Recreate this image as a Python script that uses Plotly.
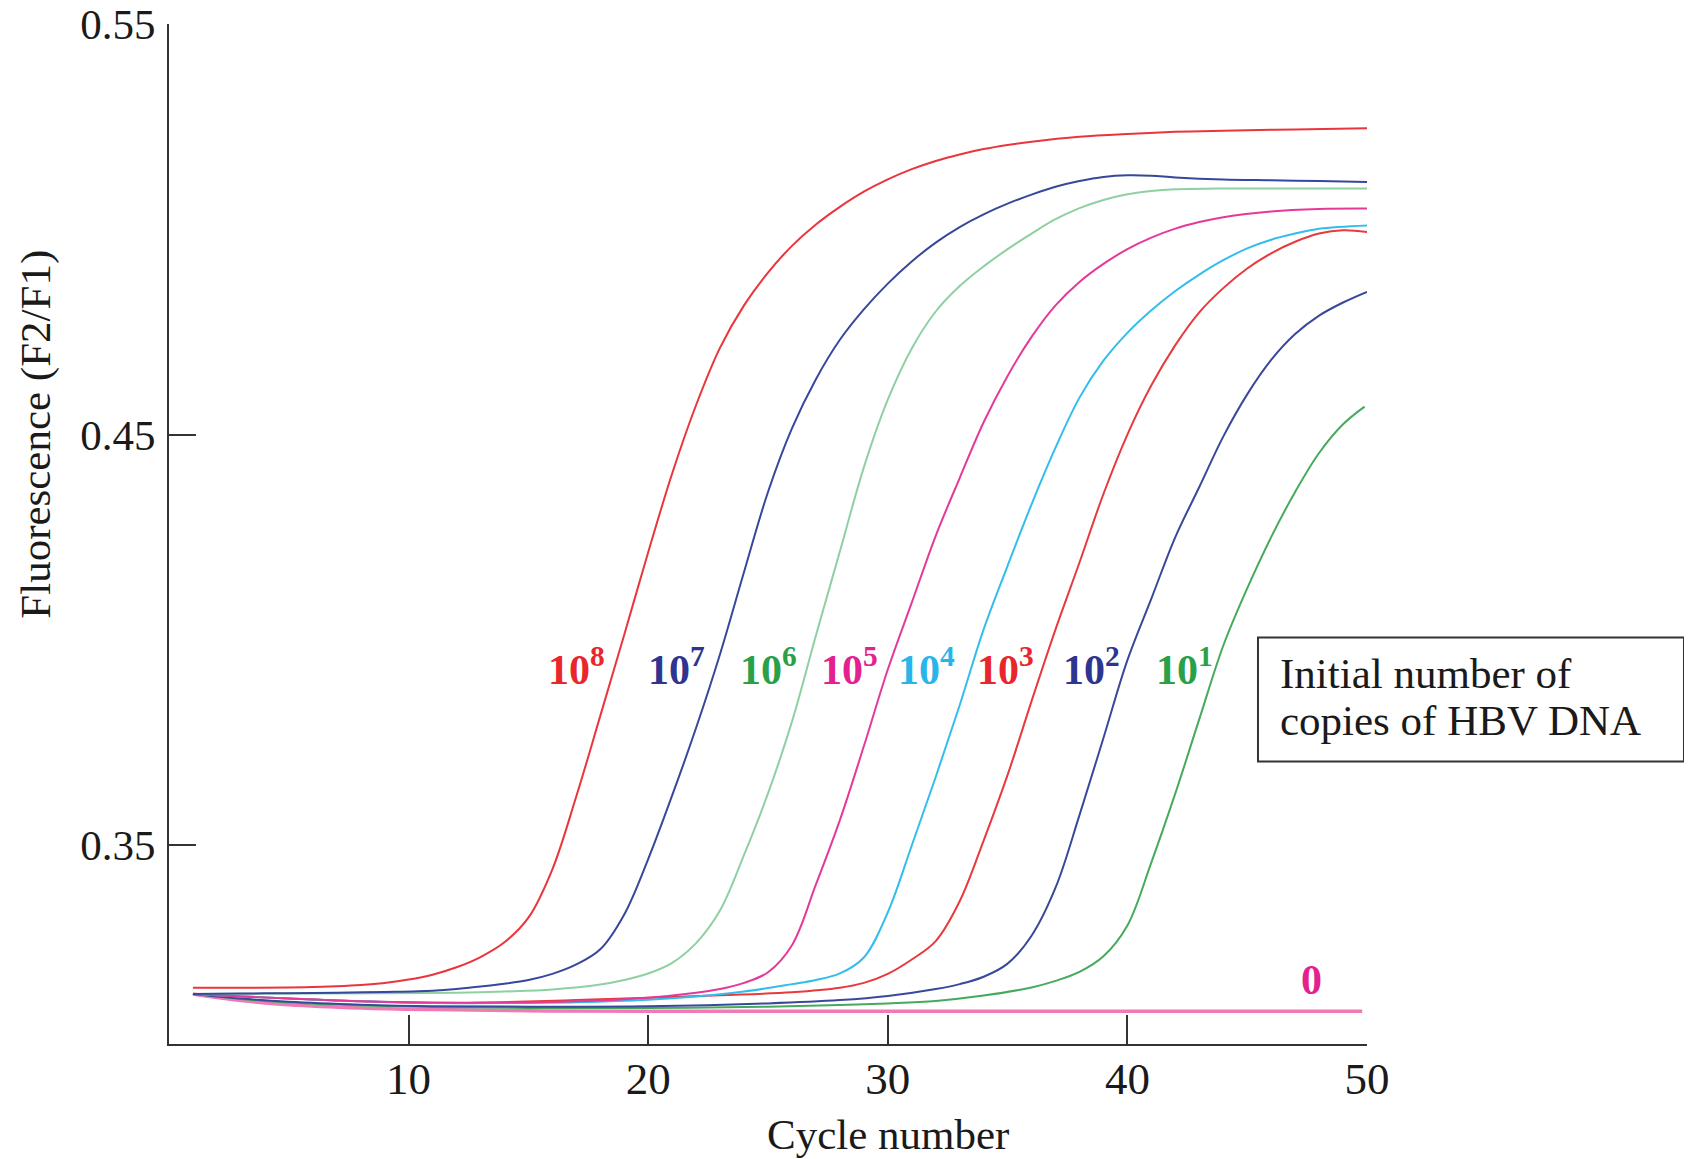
import plotly.graph_objects as go

# ---- data (cycle, fluorescence F2/F1) ----
cyc_1e8 = [1, 3, 5, 6, 7, 8, 9, 10, 11, 12, 13, 14, 15, 16, 17, 18, 19, 20, 21, 22, 23, 24, 25, 26, 27, 28, 29, 30, 31, 32, 33, 34, 35, 36, 38, 40, 42, 44, 47, 50.2]
val_1e8 = [0.3151, 0.3151, 0.3152, 0.3153, 0.3155, 0.3158, 0.3163, 0.3171, 0.3183, 0.3201, 0.3226, 0.3262, 0.3322, 0.3440, 0.3618, 0.3814, 0.4012, 0.4213, 0.4405, 0.4572, 0.4712, 0.4815, 0.4895, 0.4960, 0.5012, 0.5055, 0.5092, 0.5122, 0.5147, 0.5167, 0.5183, 0.5196, 0.5206, 0.5214, 0.5226, 0.5233, 0.5238, 0.5241, 0.5244, 0.5247]

cyc_1e7 = [1, 3, 5, 7, 9, 11, 12, 13, 14, 15, 16, 17, 18, 19, 20, 21, 22, 23, 24, 25, 26, 27, 28, 29, 30, 31, 32, 33, 34, 35, 36, 37, 38, 39, 40, 41, 42, 44, 46, 48, 50]
val_1e7 = [0.3136, 0.3137, 0.3138, 0.3139, 0.3141, 0.3144, 0.3148, 0.3154, 0.3161, 0.3170, 0.3185, 0.3208, 0.3245, 0.3330, 0.3465, 0.3620, 0.3785, 0.3965, 0.4165, 0.4360, 0.4515, 0.4635, 0.4731, 0.4805, 0.4868, 0.4922, 0.4968, 0.5006, 0.5037, 0.5063, 0.5085, 0.5104, 0.5118, 0.5128, 0.5132, 0.5131, 0.5127, 0.5122, 0.5120, 0.5118, 0.5116]

cyc_1e6 = [1, 5, 9, 12, 14, 16, 18, 19, 20, 21, 22, 23, 24, 25, 26, 27, 28, 29, 30, 31, 32, 33, 34, 35, 36, 37, 38, 39, 40, 41, 42, 44, 47, 50]
val_1e6 = [0.3136, 0.3137, 0.3138, 0.3139, 0.3142, 0.3147, 0.3159, 0.3170, 0.3186, 0.3212, 0.3260, 0.3340, 0.3475, 0.3625, 0.3800, 0.4010, 0.4215, 0.4420, 0.4585, 0.4710, 0.4800, 0.4862, 0.4910, 0.4952, 0.4990, 0.5025, 0.5052, 0.5072, 0.5086, 0.5094, 0.5098, 0.5100, 0.5100, 0.5100]

cyc_1e5 = [1, 3, 5, 8, 11, 14, 17, 20, 22, 23, 24, 25, 26, 27, 28, 29, 30, 31, 32, 33, 34, 35, 36, 37, 38, 39, 40, 41, 42, 43, 44, 46, 48, 50]
val_1e5 = [0.3136, 0.3130, 0.3125, 0.3118, 0.3115, 0.3115, 0.3118, 0.3127, 0.3139, 0.3148, 0.3163, 0.3189, 0.3255, 0.3403, 0.3560, 0.3740, 0.3927, 0.4090, 0.4253, 0.4394, 0.4530, 0.4643, 0.4738, 0.4815, 0.4872, 0.4916, 0.4952, 0.4980, 0.5002, 0.5018, 0.5030, 0.5044, 0.5050, 0.5051]

cyc_1e4 = [1, 3, 5, 8, 11, 14, 17, 20, 22, 24, 26, 27, 28, 29, 30, 31, 32, 33, 34, 35, 36, 37, 38, 39, 40, 41, 42, 43, 44, 45, 46, 47, 48, 50]
val_1e4 = [0.3136, 0.3130, 0.3125, 0.3118, 0.3114, 0.3114, 0.3116, 0.3122, 0.3130, 0.3142, 0.3160, 0.3170, 0.3186, 0.3225, 0.3335, 0.3498, 0.3665, 0.3840, 0.4025, 0.4180, 0.4330, 0.4468, 0.4590, 0.4680, 0.4748, 0.4803, 0.4850, 0.4890, 0.4925, 0.4954, 0.4975, 0.4990, 0.5002, 0.5010]

cyc_1e3 = [1, 3, 5, 8, 11, 14, 17, 20, 23, 26, 28, 29, 30, 31, 32, 33, 34, 35, 36, 37, 38, 39, 40, 41, 42, 43, 44, 45, 46, 47, 48, 49, 50]
val_1e3 = [0.3136, 0.3130, 0.3125, 0.3118, 0.3114, 0.3116, 0.3121, 0.3127, 0.3133, 0.3140, 0.3151, 0.3163, 0.3185, 0.3220, 0.3265, 0.3362, 0.3510, 0.3670, 0.3850, 0.4025, 0.4188, 0.4355, 0.4500, 0.4620, 0.4718, 0.4798, 0.4857, 0.4905, 0.4942, 0.4970, 0.4990, 0.4998, 0.4994]

cyc_1e2 = [1, 3, 5, 8, 11, 15, 20, 25, 28, 30, 32, 33, 34, 35, 36, 37, 38, 39, 40, 41, 42, 43, 44, 45, 46, 47, 48, 49, 50]
val_1e2 = [0.3136, 0.3125, 0.3117, 0.3110, 0.3106, 0.3105, 0.3106, 0.3113, 0.3121, 0.3131, 0.3148, 0.3160, 0.3178, 0.3210, 0.3278, 0.3395, 0.3572, 0.3760, 0.3950, 0.4100, 0.4250, 0.4372, 0.4495, 0.4598, 0.4682, 0.4745, 0.4790, 0.4822, 0.4848]

cyc_1e1 = [1, 3, 5, 8, 11, 15, 20, 25, 28, 30, 32, 34, 36, 37, 38, 39, 40, 41, 42, 43, 44, 45, 46, 47, 48, 49, 49.9]
val_1e1 = [0.3136, 0.3124, 0.3115, 0.3108, 0.3104, 0.3102, 0.3102, 0.3105, 0.3109, 0.3113, 0.3119, 0.3132, 0.3152, 0.3168, 0.3190, 0.3228, 0.3303, 0.3457, 0.3625, 0.3806, 0.3985, 0.4125, 0.4250, 0.4360, 0.4455, 0.4525, 0.4568]

cyc_0 = [1, 3, 5, 8, 11, 15, 20, 30, 40, 49.8]
val_0 = [0.3136, 0.3120, 0.3110, 0.3102, 0.3098, 0.3095, 0.3094, 0.3094, 0.3094, 0.3094]

series_labels = ["10<sup>8</sup>", "10<sup>7</sup>", "10<sup>6</sup>", "10<sup>5</sup>", "10<sup>4</sup>",
                 "10<sup>3</sup>", "10<sup>2</sup>", "10<sup>1</sup>", "0"]
label_x = [17.0, 21.2, 25.0, 28.4, 31.6, 34.9, 38.5, 42.4, 47.7]
label_y = [0.3935, 0.3935, 0.3935, 0.3935, 0.3935, 0.3935, 0.3935, 0.3935, 0.3171]

tick_x = [10, 20, 30, 40, 50]
tick_y = [0.35, 0.45, 0.55]

# ---- styles ----
line_colors = ["#e9353b", "#37479b", "#8fd0a2", "#e5399a", "#33bdec", "#e8393c", "#3a489c", "#45aa5c", "#f07ab6"]
label_colors = ["#e8262b", "#2e3590", "#2ba04a", "#e3228f", "#27b5ea", "#e8262b", "#2e3590", "#2ba04a", "#e3228f"]
line_widths = [2, 2, 2, 2, 2, 2, 2, 2, 3.5]

xs = [cyc_1e8, cyc_1e7, cyc_1e6, cyc_1e5, cyc_1e4, cyc_1e3, cyc_1e2, cyc_1e1, cyc_0]
ys = [val_1e8, val_1e7, val_1e6, val_1e5, val_1e4, val_1e3, val_1e2, val_1e1, val_0]

FONT = "Liberation Serif"

fig = go.Figure()
for i in range(len(xs) - 1, -1, -1):
    fig.add_trace(go.Scatter(
        x=xs[i], y=ys[i], mode="lines",
        line=dict(color=line_colors[i], width=line_widths[i], shape="spline", smoothing=1.0),
        showlegend=False, hoverinfo="skip",
    ))

for i, txt in enumerate(series_labels):
    fig.add_annotation(
        x=label_x[i], y=label_y[i], xref="x", yref="y", text="<b>" + txt + "</b>",
        showarrow=False, xanchor="center", yanchor="middle",
        font=dict(family=FONT, size=42, color=label_colors[i]),
    )

# legend-like box
fig.add_shape(type="rect", xref="paper", yref="paper",
              x0=0.909, x1=1.2646, y0=0.277, y1=0.3985,
              line=dict(color="#333333", width=2), fillcolor="white", layer="above")
fig.add_annotation(x=0.9257, y=0.3632, xref="paper", yref="paper", text="Initial number of",
                   showarrow=False, xanchor="left", yanchor="middle",
                   font=dict(family=FONT, size=43, color="#1a1a1a"))
fig.add_annotation(x=0.9257, y=0.3172, xref="paper", yref="paper", text="copies of HBV DNA",
                   showarrow=False, xanchor="left", yanchor="middle",
                   font=dict(family=FONT, size=43, color="#1a1a1a"))

# axis titles
fig.add_annotation(x=-0.1117, y=0.5975, xref="paper", yref="paper", text="Fluorescence (F2/F1)",
                   showarrow=False, textangle=-90, xanchor="center", yanchor="middle",
                   font=dict(family=FONT, size=43, color="#1a1a1a"))
fig.add_annotation(x=0.600, y=-0.0885, xref="paper", yref="paper", text="Cycle number",
                   showarrow=False, xanchor="center", yanchor="middle",
                   font=dict(family=FONT, size=43, color="#1a1a1a"))

fig.update_layout(
    width=1684, height=1151,
    margin=dict(l=161, r=325, t=16, b=115, autoexpand=False),
    plot_bgcolor="white", paper_bgcolor="white",
    xaxis=dict(range=[0, 50], tickvals=tick_x, ticktext=[str(v) for v in tick_x], automargin=False,
               showgrid=False, zeroline=False, showline=True, linecolor="#333333", linewidth=2,
               ticks="inside", ticklen=29, tickwidth=1.5, tickcolor="#333333",
               tickfont=dict(family=FONT, size=45, color="#1a1a1a"), ticklabelstandoff=-6),
    yaxis=dict(range=[0.3014, 0.5501], tickvals=tick_y, ticktext=["0.35", "0.45", "0.55"], automargin=False,
               showgrid=False, zeroline=False, showline=True, linecolor="#333333", linewidth=2,
               ticks="inside", ticklen=27, tickwidth=1.5, tickcolor="#333333",
               ticklabeloverflow="allow",
               tickfont=dict(family=FONT, size=43, color="#1a1a1a"), ticklabelstandoff=3),
)

fig.write_html("out.html")
